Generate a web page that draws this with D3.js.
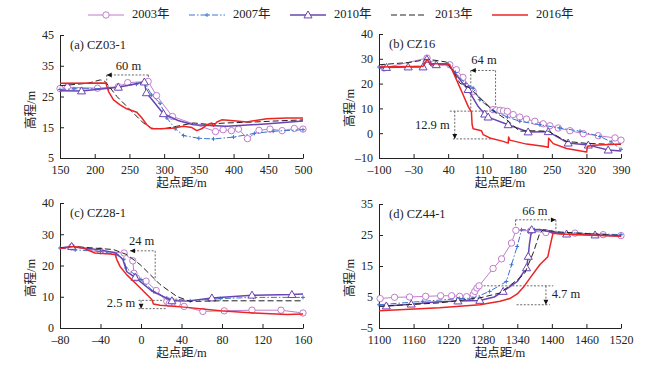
<!DOCTYPE html>
<html>
<head>
<meta charset="utf-8">
<script src="https://cdn.jsdelivr.net/npm/d3@7"></script>
<style>
  html, body { margin: 0; padding: 0; background: #fff; }
  svg { display: block; font-family: "Liberation Serif", "Times New Roman", "Noto Sans CJK SC", serif; }
</style>
</head>
<body>
<svg id="chart" width="661" height="369"></svg>
<script>
'use strict';

const YEARS = ['2003年', '2007年', '2010年', '2013年', '2016年'];

// ---- (a) CZ03-1 ----
const a2003 = [[150,27.6],[160.6,28.0],[204,27.7],[234,28.2],[247.5,29.5],[277,29.9],[289,25.3],[312,18.5],[374,13.6],[385,14.2],[397,13.9],[407,14.4],[420,11.3],[436.6,14.0],[452.5,14.4],[470,13.9],[487.5,14.6],[500,14.4]];
const a2007 = [[150,27.3],[170,27.5],[220,27.6],[260,29.0],[272,29.5],[282,25.5],[294,22.8],[304,18.0],[316,14.5],[328,12.3],[350,11.4],[371,11.2],[400,11.8],[430,13.0],[457,13.7],[500,14.2]];
const a2010 = [[150,26.9],[181,26.8],[234,28.0],[271.5,29.7],[274.5,26.2],[299,19.4],[320,17.2],[342,15.8],[390,15.3],[450,16.1],[500,17.0]];
const a2010m = [[181,26.8],[234,28.0],[271.5,29.7],[274.5,26.2],[299,19.4]];
const a2013 = [[150,28.5],[190,29.3],[208,30.4],[215,29.9],[232,25],[251,20.7],[270,16.4],[282,14.7],[299,14.5],[318,15.3],[342,16.4],[361,16.0],[390,16.4],[429,16.7],[467,17.1],[500,17.4]];
const a2016 = [[150,29.3],[216,29.4],[220,26.6],[227,23.9],[236.5,22.3],[246,21],[260.6,19.9],[268,18],[275,15.8],[282,14.5],[294,14.5],[311,14.7],[328,15.3],[340,14.9],[347,13.9],[354,14.5],[361.5,15.8],[368.8,16.4],[371,15.3],[376,16.7],[383,17.4],[400,17.1],[419,16.7],[429,17.1],[448,17.8],[477,18],[500,18]];

// ---- (b) CZ16 ----
const b2003 = [[-90,26.3],[-2.7,30.3],[10.8,27.9],[43.3,27.6],[56.8,25.6],[70,22.5],[90.6,16.9],[131,9.5],[138,9.3],[145,9.2],[152,9.0],[160,8.8],[171.7,7.5],[185,6.5],[198.7,5.7],[215.6,4.8],[232.5,3.8],[246,3],[263,2.1],[286.6,1],[313.7,-0.2],[344,-1],[377.9,-1.9],[390,-2.8]];
const b2007 = [[-100,26.7],[-10,27],[-3,29.5],[5,27.8],[40,27.8],[55,24.5],[75,20],[90.6,18.2],[104,13.5],[131,9.1],[160,6.5],[185,4.8],[225.8,3.4],[266,2.1],[307,0.8],[347.4,-1.3],[370,-3.5],[390,-6.5]];
const b2010 = [[-100,26.3],[-85,26.5],[-41,26.7],[-10.8,26.7],[-3,29.8],[5,27.5],[16,27.6],[40,27.6],[55,24],[70,20],[80.4,17.6],[100,11],[114,7.7],[121,6.5],[161.6,3.4],[202,0.5],[242.7,0.6],[283,-4],[323.8,-4.8],[364,-6.8],[390,-7.2]];
const b2010m = [[-85,26.5],[-41,26.7],[-10.8,26.7],[-3,29.8],[16,27.6],[80.4,17.6],[114,7.7],[121,6.5],[161.6,3.4],[202,0.5],[242.7,0.6],[283,-4],[323.8,-4.8],[364,-6.8]];
const b2013 = [[-100,27.6],[-40,28.5],[0,29.8],[36.5,28.7],[50,25],[63.6,20.2],[83.8,18.2],[104,14.2],[131,9.1],[158,5.5],[185,0.8],[205.5,1],[242.7,0.8],[279.9,-3.3],[320.4,-4.1],[390,-4.6]];
const b2016 = [[-100,26.7],[-10.8,27],[-2.7,29.7],[4,28],[36.5,28],[43.3,27.6],[56.8,21.6],[70.3,15.5],[80.5,10.8],[87.2,8.5],[88.5,3.5],[90.6,1.8],[107.5,1],[110.9,-0.6],[124.4,-1.9],[151.4,-3.3],[161.6,-4],[162.5,-1.5],[165,-2.8],[198.7,-4.4],[232.5,-5.3],[242.7,-5.7],[243.5,-2.0],[252.8,-4.2],[279.9,-6.2],[320.4,-7.6],[322,-5.3],[334,-4.9],[390,-4.4]];

// ---- (c) CZ28-1 ----
const c2003 = [[-68.5,25.9],[-40.4,24.7],[-16.7,24.0],[-8.1,21.5],[-7,17.5],[-4.5,16],[5,15],[15,12],[25.5,8.5],[28,7.9],[32,8.3],[36,7.9],[42.6,6.9],[61.1,5.3],[82.2,5.5],[109.6,5.7],[138.3,5.7],[160,4.8]];
const c2007 = [[-80,25.6],[-65,25],[-40,24.5],[-24,23.5],[-17,22],[-14.7,19.2],[-5.8,17],[0,15.5],[12.3,11.7],[25.5,9.6],[48.6,8.7],[78.3,9.4],[111.2,9.8],[160,9.8]];
const c2010 = [[-80,25.6],[-68.5,26.1],[-40,25],[-25,24],[-18,22],[-14,18],[-5.8,16.2],[10,12],[30.5,8.7],[45,8.6],[70,9.6],[109.6,10.5],[149,10.7],[160,10.9]];
const c2010m = [[-68.5,26.1],[-5.8,16.2],[30.5,8.7],[70,9.6],[109.6,10.5],[149,10.7]];
const c2013 = [[-80,25.6],[-66.8,26.1],[-27.2,25.1],[-14,23.5],[-0.9,20.3],[18.9,13.9],[35.4,10.1],[48.6,8.5],[78.3,8.7],[160,8.7]];
const c2016 = [[-80,25.4],[-66.8,26.1],[-57,25.6],[-45.4,24],[-30.5,23.7],[-25.6,23.5],[-23.9,21.9],[-20.7,19.7],[-14,17],[-4.2,13.9],[5.7,10.7],[10.7,9.1],[12.3,7.7],[18.9,7.3],[45.3,6.6],[78.3,5.5],[111.2,4.8],[144.2,4.3],[160,4.5]];

// ---- (d) CZ44-1 ----
const d2003 = [[1102,4.5],[1127,4.9],[1153,5],[1181,5.2],[1207,5.4],[1226,5.4],[1240,5.2],[1252,5.1],[1263.6,5.8],[1266.3,6.8],[1270,7.9],[1273.7,8.6],[1298,14.2],[1312.7,17.3],[1330,22.4],[1337.5,26.5],[1363,26.3],[1389.7,25.8],[1440,25.6],[1489,25.1],[1520,24.8]];
const d2007 = [[1100,2.5],[1176,3.6],[1240,4.5],[1263,4.6],[1292,6.8],[1321,10],[1330,15.4],[1339.8,21.3],[1347.4,26.7],[1370,26.7],[1400,26],[1520,25.1]];
const d2010 = [[1100,2],[1112.7,2.1],[1156,2.7],[1197,3.4],[1237,3.7],[1275,3.9],[1300,5],[1315.5,6.8],[1340,10],[1356,14.4],[1359,18.1],[1361,22],[1365,26.7],[1379,26.8],[1402,25.8],[1425.6,25.3],[1475,25.0],[1520,24.7]];
const d2010m = [[1112.7,2.1],[1156,2.7],[1237,3.7],[1275,3.9],[1315.5,6.8],[1356,14.4],[1359,18.1],[1365,26.7],[1425.6,25.3],[1475,25.0]];
const d2013 = [[1100,2],[1205,3.1],[1275,4.7],[1310,6.3],[1344,11.1],[1353,12.7],[1367.6,19.2],[1379,25.6],[1385,26.7],[1410,26],[1520,24.8]];
const d2016 = [[1100,0.6],[1205,1.5],[1275,2.5],[1310,3.6],[1327,4.5],[1340,6],[1352,8.5],[1362,11.1],[1379,15.4],[1393,18],[1397,21.5],[1402,25.6],[1414,25.3],[1520,24.6]];

// tick values
const aXTicks = [150, 200, 250, 300, 350, 400, 450, 500];
const aYTicks = [5, 15, 25, 35, 45];
const bXTicks = [-100, -30, 40, 110, 180, 250, 320, 390];
const bYTicks = [-10, 0, 10, 20, 30, 40];
const cXTicks = [-80, -40, 0, 40, 80, 120, 160];
const cYTicks = [0, 10, 20, 30, 40];
const dXTicks = [1100, 1160, 1220, 1280, 1340, 1400, 1460, 1520];
const dYTicks = [-5, 5, 15, 25, 35];

// annotation values: dashed segments [x1, y1, x2, y2], arrows [x, y, dir], labels [text, x, y]
const aSegs = [[217.3,32,277.2,32],[217.3,32,217.3,29.1],[277.2,32,277.2,30.1]];
const aArrows = [[217.3,32,'left']];
const aLabels = [['60 m',248.6,34.6]];
const bSegs = [[85.9,25.3,136,25.3],[85.9,25.3,85.9,9.1],[136,25.3,136,9.1],[43.3,8.9,138,8.9],[49.4,-2.3,127.8,-2.3],[53.4,8.9,53.4,-2.3]];
const bArrows = [[85.9,25.3,'left'],[53.4,-2.3,'down']];
const bLabels = [['64 m',112.5,29],['12.9 m',8,2.8]];
const cSegs = [[-10.8,24.7,14,24.7],[14,24.7,14,15.1],[-2.5,8.85,42,8.85],[-2.5,6.2,26,6.2],[0.1,8.85,0.1,6.2]];
const cArrows = [[-10.8,24.7,'left'],[0.1,6.2,'down']];
const cLabels = [['24 m',0.6,27.6],['2.5 m',-19.7,7.8]];
const dSegs = [[1337,29.9,1407,29.9],[1337,29.9,1337,26.7],[1407,29.9,1407,25.6],[1269,8.6,1402.4,8.6],[1338.8,2.5,1396.6,2.5],[1389.7,8.6,1389.7,2.5]];
const dArrows = [[1407,29.9,'right'],[1389.7,2.5,'down']];
const dLabels = [['66 m',1370.6,32.5],['4.7 m',1424.4,5.7]];

(function () {
  const STYLE = {
    '2003年': { color: '#c27bcc', width: 1, dash: null, marker: 'circle' },
    '2007年': { color: '#3d74cc', width: 1, dash: '6,2,1.5,2', marker: 'plus' },
    '2010年': { color: '#6a44b2', width: 1.5, dash: null, marker: 'triangle' },
    '2013年': { color: '#222', width: 1, dash: '6,3', marker: null },
    '2016年': { color: '#ec2424', width: 1.5, dash: null, marker: null }
  };

  const panels = [
    { box: [60, 303, 35, 158], x: [150, 500], y: [5, 45], xt: aXTicks, yt: aYTicks, title: '(a) CZ03-1',
      ytx: [32, 110], series: [a2003, a2007, a2010, a2013, a2016], marks: [a2003, a2007, a2010m, null, null],
      segs: aSegs, arrows: aArrows, labels: aLabels },
    { box: [379, 621, 34, 158], x: [-100, 390], y: [-10, 40], xt: bXTicks, yt: bYTicks, title: '(b) CZ16',
      ytx: [351, 108], series: [b2003, b2007, b2010, b2013, b2016], marks: [b2003, b2007, b2010m, null, null],
      segs: bSegs, arrows: bArrows, labels: bLabels },
    { box: [60, 303, 203, 328], x: [-80, 160], y: [0, 40], xt: cXTicks, yt: cYTicks, title: '(c) CZ28-1',
      ytx: [32, 278], series: [c2003, c2007, c2010, c2013, c2016], marks: [c2003, c2007, c2010m, null, null],
      segs: cSegs, arrows: cArrows, labels: cLabels },
    { box: [379, 621, 204, 328], x: [1100, 1520], y: [-5, 35], xt: dXTicks, yt: dYTicks, title: '(d) CZ44-1',
      ytx: [351, 278], series: [d2003, d2007, d2010, d2013, d2016], marks: [d2003, d2007, d2010m, null, null],
      segs: dSegs, arrows: dArrows, labels: dLabels }
  ];

  const svg = d3.select('#chart');
  svg.append('rect').attr('width', 661).attr('height', 369).attr('fill', '#fff');

  const tickFmt = (v) => (v < 0 ? '\u2013' + Math.abs(v) : String(v));

  function drawMarker(g, kind, color, x, y) {
    if (kind === 'circle') {
      g.append('circle').attr('cx', x).attr('cy', y).attr('r', 3.2)
        .attr('fill', '#fff').attr('stroke', color).attr('stroke-width', 1);
    } else if (kind === 'triangle') {
      g.append('path').attr('d', d3.symbol(d3.symbolTriangle).size(28)())
        .attr('transform', `translate(${x},${y + 0.6})`)
        .attr('fill', '#fff').attr('stroke', color).attr('stroke-width', 1);
    } else if (kind === 'plus') {
      g.append('path').attr('d', `M${x - 2},${y}H${x + 2}M${x},${y - 2}V${y + 2}`)
        .attr('stroke', color).attr('stroke-width', 1);
    }
  }

  function arrowHead(g, x, y, dir) {
    const L = 5, W = 2.4;
    let d;
    if (dir === 'left') d = `M${x},${y}L${x + L},${y - W}L${x + L},${y + W}Z`;
    else if (dir === 'right') d = `M${x},${y}L${x - L},${y - W}L${x - L},${y + W}Z`;
    else d = `M${x},${y}L${x - W},${y - L}L${x + W},${y - L}Z`;
    g.append('path').attr('d', d).attr('fill', '#111');
  }

  function drawPanel(p) {
    const [l, r, t, b] = p.box;
    const x = d3.scaleLinear().domain(p.x).range([l, r]);
    const y = d3.scaleLinear().domain(p.y).range([b, t]);
    const g = svg.append('g');

    const xAxis = d3.axisBottom(x).tickValues(p.xt).tickFormat(tickFmt)
      .tickSizeInner(-4).tickSizeOuter(0).tickPadding(7);
    const yAxis = d3.axisLeft(y).tickValues(p.yt).tickFormat(tickFmt)
      .tickSizeInner(-4).tickSizeOuter(0).tickPadding(6);

    const gx = g.append('g').attr('transform', `translate(0,${b})`).call(xAxis);
    const gy = g.append('g').attr('transform', `translate(${l},0)`).call(yAxis);
    [gx, gy].forEach((ax) => {
      ax.selectAll('path, line').attr('stroke', '#222').attr('stroke-width', 1);
      ax.selectAll('text').attr('font-size', 12).attr('fill', '#222')
        .attr('font-family', '"Liberation Serif", "Times New Roman", serif');
    });

    g.append('text').attr('x', (l + r) / 2).attr('y', b + 29).attr('text-anchor', 'middle')
      .attr('font-size', 12.5).attr('fill', '#222').text('起点距/m');
    g.append('text').attr('transform', `translate(${p.ytx[0]},${p.ytx[1]}) rotate(-90)`)
      .attr('text-anchor', 'middle').attr('dominant-baseline', 'middle')
      .attr('font-size', 12.5).attr('fill', '#222').text('高程/m');
    g.append('text').attr('x', l + 10).attr('y', t + 14).attr('font-size', 12.5).attr('fill', '#222').text(p.title);

    // annotations
    const ann = g.append('g');
    p.segs.forEach(([x1, y1, x2, y2]) => {
      ann.append('line').attr('x1', x(x1)).attr('y1', y(y1)).attr('x2', x(x2)).attr('y2', y(y2))
        .attr('stroke', '#444').attr('stroke-width', 0.8).attr('stroke-dasharray', '2,1.6');
    });
    p.arrows.forEach(([ax, ay, dir]) => arrowHead(ann, x(ax), y(ay), dir));
    p.labels.forEach(([txt, lx, ly]) => {
      ann.append('text').attr('x', x(lx)).attr('y', y(ly)).attr('text-anchor', 'middle')
        .attr('dominant-baseline', 'middle').attr('font-size', 12.5).attr('fill', '#222').text(txt);
    });

    const line = d3.line().x((d) => x(d[0])).y((d) => y(d[1]));
    p.series.forEach((pts, i) => {
      const st = STYLE[YEARS[i]];
      g.append('path').attr('d', line(pts)).attr('fill', 'none')
        .attr('stroke', st.color).attr('stroke-width', st.width)
        .attr('stroke-dasharray', st.dash).attr('stroke-linejoin', 'round');
      const mk = p.marks[i];
      if (mk && st.marker) {
        const mg = g.append('g');
        mk.forEach((d) => drawMarker(mg, st.marker, st.color, x(d[0]), y(d[1])));
      }
    });
  }

  panels.forEach(drawPanel);

  // legend
  const legend = svg.append('g');
  YEARS.forEach((yr, i) => {
    const st = STYLE[yr];
    const x0 = 88 + i * 101;
    legend.append('line').attr('x1', x0).attr('x2', x0 + 36).attr('y1', 15).attr('y2', 15)
      .attr('stroke', st.color).attr('stroke-width', st.width).attr('stroke-dasharray', st.dash);
    if (st.marker) drawMarker(legend, st.marker, st.color, x0 + 18, 15);
    legend.append('text').attr('x', x0 + 44).attr('y', 15).attr('dominant-baseline', 'middle')
      .attr('font-size', 12.5).attr('fill', '#222').text(yr);
  });
})();
</script>
</body>
</html>
